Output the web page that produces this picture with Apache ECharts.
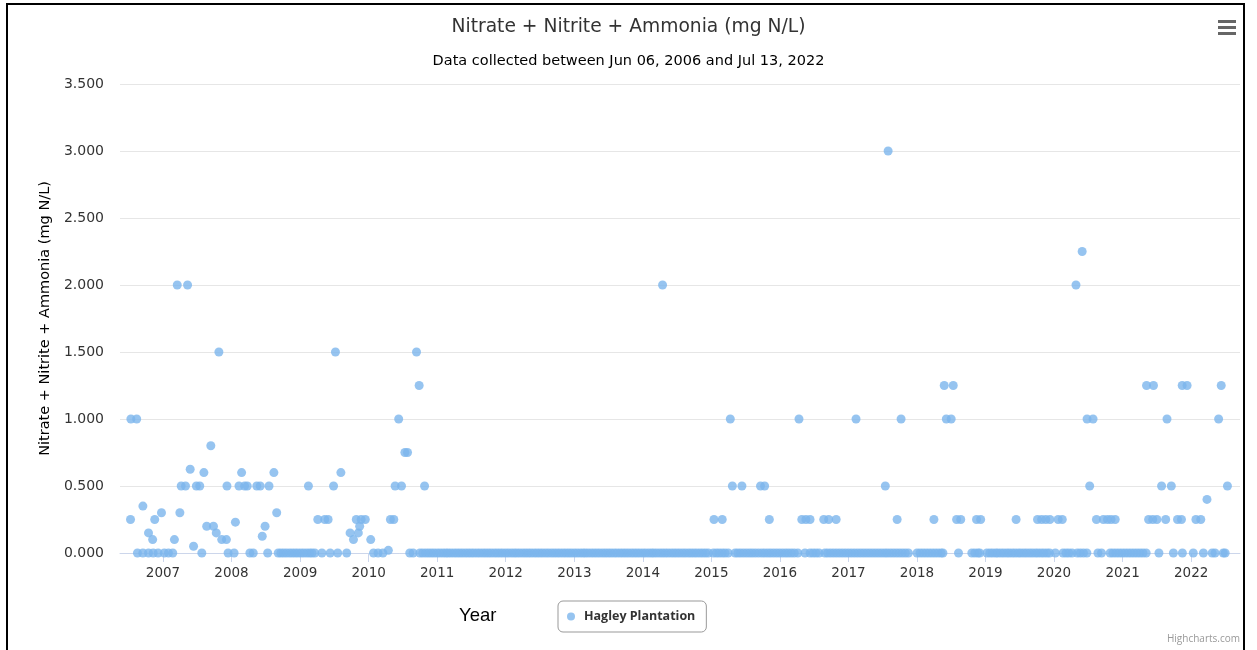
<!DOCTYPE html>
<html>
<head>
<meta charset="utf-8">
<title>Nitrate + Nitrite + Ammonia</title>
<script src="https://cdn.jsdelivr.net/npm/echarts@6/dist/echarts.min.js"></script>
<style>
  html, body { margin: 0; padding: 0; background: #fff; }
  #chart { width: 1257px; height: 650px; }
</style>
</head>
<body>
<div id="chart"></div>
<script>
// values: [date, mg N/L]
var hitDates = [
    '2006-07-12', '2006-07-14', '2006-08-14', '2006-09-16', '2006-10-16', '2006-11-07', '2006-11-18', '2006-12-24',
    '2007-03-03', '2007-03-18', '2007-04-01', '2007-04-08', '2007-05-01', '2007-05-12', '2007-05-26', '2007-06-13',
    '2007-06-28', '2007-07-16', '2007-08-07', '2007-08-22', '2007-09-13', '2007-09-27', '2007-10-12', '2007-10-26',
    '2007-11-10', '2007-12-05', '2007-12-08',
    '2008-01-22', '2008-02-10', '2008-02-24', '2008-03-11', '2008-03-25', '2008-05-15', '2008-06-02', '2008-06-13',
    '2008-06-28', '2008-07-19', '2008-08-14', '2008-08-29',
    '2009-02-14', '2009-04-05', '2009-05-12', '2009-05-30', '2009-06-28', '2009-07-08', '2009-08-06', '2009-09-24',
    '2009-10-12', '2009-10-27', '2009-11-07', '2009-11-14', '2009-11-22', '2009-12-14',
    '2010-01-12', '2010-04-16', '2010-04-27', '2010-05-15', '2010-05-22', '2010-06-10', '2010-06-25', '2010-07-13',
    '2010-07-27', '2010-09-13', '2010-09-27', '2010-10-26',
    '2014-04-16',
    '2015-01-15', '2015-02-28', '2015-04-12', '2015-04-23', '2015-06-13', '2015-09-20', '2015-10-12', '2015-11-06',
    '2016-04-12', '2016-04-27', '2016-05-19', '2016-06-10', '2016-08-22', '2016-09-17', '2016-10-27',
    '2017-02-10', '2017-07-16', '2017-07-31', '2017-09-17', '2017-10-08',
    '2018-04-01', '2018-05-26', '2018-06-06', '2018-07-02', '2018-07-13', '2018-07-31', '2018-08-22', '2018-11-14',
    '2018-12-06',
    '2019-06-13', '2019-10-05', '2019-10-27', '2019-11-18', '2019-12-10',
    '2020-01-23', '2020-02-14', '2020-04-27', '2020-05-30', '2020-06-25', '2020-07-09', '2020-07-27', '2020-08-14',
    '2020-09-20', '2020-10-12', '2020-10-31', '2020-11-22',
    '2021-05-08', '2021-05-19', '2021-06-10', '2021-06-14', '2021-07-02', '2021-07-27', '2021-08-18', '2021-08-25',
    '2021-09-17', '2021-10-20', '2021-11-10', '2021-11-14', '2021-12-10',
    '2022-01-26', '2022-02-21', '2022-03-26', '2022-05-27', '2022-06-10', '2022-07-13'
];
var hitValues = [
    0.25, 1, 1, 0.35, 0.15, 0.1, 0.25, 0.3,
    0.1, 2, 0.3, 0.5, 0.5, 2, 0.625, 0.05,
    0.5, 0.5, 0.6, 0.2, 0.8, 0.2, 0.15, 1.5,
    0.1, 0.1, 0.5,
    0.23, 0.5, 0.6, 0.5, 0.5, 0.5, 0.5, 0.125,
    0.2, 0.5, 0.6, 0.3,
    0.5, 0.25, 0.25, 0.25, 0.5, 1.5, 0.6, 0.15,
    0.1, 0.25, 0.15, 0.2, 0.25, 0.25,
    0.1, 0.02, 0.25, 0.25, 0.5, 1, 0.5, 0.75,
    0.75, 1.5, 1.25, 0.5,
    2,
    0.25, 0.25, 1, 0.5, 0.5, 0.5, 0.5, 0.25,
    1, 0.25, 0.25, 0.25, 0.25, 0.25, 0.25,
    1, 0.5, 3, 0.25, 1,
    0.25, 1.25, 1, 1, 1.25, 0.25, 0.25, 0.25,
    0.25,
    0.25, 0.25, 0.25, 0.25, 0.25,
    0.25, 0.25, 2, 2.25, 1, 0.5, 1, 0.25,
    0.25, 0.25, 0.25, 0.25,
    1.25, 0.25, 0.25, 1.25, 0.25, 0.5, 0.25, 1,
    0.5, 0.25, 0.25, 1.25, 1.25,
    0.25, 0.25, 0.4, 1, 1.25, 0.5
];
// samples that came back at 0.000
var zeroDates = [
    '2006-08-18', '2006-09-16', '2006-10-16', '2006-11-10', '2006-12-06',
    '2007-01-08', '2007-01-30', '2007-02-22', '2007-07-27', '2007-12-14',
    '2008-01-15', '2008-04-08', '2008-04-26', '2008-07-12', '2008-09-06', '2008-09-20', '2008-10-05', '2008-10-20',
    '2008-11-05', '2008-11-20', '2008-12-05', '2008-12-20',
    '2009-01-05', '2009-01-20', '2009-02-05', '2009-02-20', '2009-03-05', '2009-03-20', '2009-04-27', '2009-06-10',
    '2009-07-20', '2009-09-06',
    '2010-01-27', '2010-02-20', '2010-03-18', '2010-08-08', '2010-08-26', '2010-10-01', '2010-10-16', '2010-11-01',
    '2010-11-16', '2010-12-01', '2010-12-16',
    '2011-01-01', '2011-01-16', '2011-02-01', '2011-02-16', '2011-03-01', '2011-03-16', '2011-04-01', '2011-04-16',
    '2011-05-01', '2011-05-16', '2011-06-01', '2011-06-16', '2011-07-01', '2011-07-16', '2011-08-01', '2011-08-16',
    '2011-09-01', '2011-09-16', '2011-10-01', '2011-10-16', '2011-11-01', '2011-11-16', '2011-12-01', '2011-12-16',
    '2012-01-01', '2012-01-16', '2012-02-01', '2012-02-16', '2012-03-01', '2012-03-16', '2012-04-01', '2012-04-16',
    '2012-05-01', '2012-05-16', '2012-06-01', '2012-06-16', '2012-07-01', '2012-07-16', '2012-08-01', '2012-08-16',
    '2012-09-01', '2012-09-16', '2012-10-01', '2012-10-16', '2012-11-01', '2012-11-16', '2012-12-01', '2012-12-16',
    '2013-01-01', '2013-01-16', '2013-02-01', '2013-02-16', '2013-03-01', '2013-03-16', '2013-04-01', '2013-04-16',
    '2013-05-01', '2013-05-16', '2013-06-01', '2013-06-16', '2013-07-01', '2013-07-16', '2013-08-01', '2013-08-16',
    '2013-09-01', '2013-09-16', '2013-10-01', '2013-10-16', '2013-11-01', '2013-11-16', '2013-12-01', '2013-12-16',
    '2014-01-01', '2014-01-16', '2014-02-01', '2014-02-16', '2014-03-01', '2014-03-16', '2014-04-01', '2014-04-16',
    '2014-05-01', '2014-05-16', '2014-06-01', '2014-06-16', '2014-07-01', '2014-07-16', '2014-08-01', '2014-08-16',
    '2014-09-01', '2014-09-16', '2014-10-01', '2014-10-16', '2014-11-01', '2014-11-16', '2014-12-01', '2014-12-16',
    '2015-01-12', '2015-01-28', '2015-02-12', '2015-02-28', '2015-03-15', '2015-04-01', '2015-05-08', '2015-05-22',
    '2015-06-06', '2015-06-22', '2015-07-08', '2015-07-24', '2015-08-08', '2015-08-24', '2015-09-10', '2015-09-27',
    '2015-10-12', '2015-10-28', '2015-11-12', '2015-11-28', '2015-12-14', '2015-12-30',
    '2016-01-15', '2016-01-31', '2016-02-15', '2016-03-02', '2016-03-18', '2016-04-06', '2016-05-14', '2016-06-10',
    '2016-06-26', '2016-07-12', '2016-07-28', '2016-08-28', '2016-09-12', '2016-09-28', '2016-10-14', '2016-10-30',
    '2016-11-15', '2016-12-01', '2016-12-17',
    '2017-01-02', '2017-01-18', '2017-02-03', '2017-02-19', '2017-03-07', '2017-03-23', '2017-04-08', '2017-04-24',
    '2017-05-10', '2017-05-26', '2017-06-11', '2017-06-27', '2017-07-13', '2017-07-27', '2017-08-12', '2017-08-28',
    '2017-09-13', '2017-09-29', '2017-10-15', '2017-10-31', '2017-11-16',
    '2018-01-01', '2018-01-17', '2018-02-02', '2018-02-18', '2018-03-06', '2018-03-22', '2018-04-07', '2018-04-23',
    '2018-05-09', '2018-05-19', '2018-08-10', '2018-10-20', '2018-11-05', '2018-11-21', '2018-12-01',
    '2019-01-08', '2019-01-24', '2019-02-08', '2019-02-24', '2019-03-08', '2019-03-24', '2019-04-08', '2019-04-24',
    '2019-05-08', '2019-05-24', '2019-06-08', '2019-06-24', '2019-07-08', '2019-07-24', '2019-08-08', '2019-08-24',
    '2019-09-08', '2019-09-24', '2019-10-08', '2019-10-24', '2019-11-08', '2019-11-24', '2019-12-08',
    '2020-01-08', '2020-02-18', '2020-03-05', '2020-03-20', '2020-04-06', '2020-05-04', '2020-05-20', '2020-06-06',
    '2020-06-24', '2020-08-22', '2020-09-10', '2020-10-26', '2020-11-10', '2020-11-26', '2020-12-12', '2020-12-28',
    '2021-01-13', '2021-01-29', '2021-02-14', '2021-03-02', '2021-03-18', '2021-04-03', '2021-04-19', '2021-05-06',
    '2021-07-13', '2021-09-28', '2021-11-15',
    '2022-01-12', '2022-03-07', '2022-04-23', '2022-05-08', '2022-06-21', '2022-07-01'
];
var yTicks = [0, 0.5, 1, 1.5, 2, 2.5, 3, 3.5];

var dom = document.getElementById('chart');
var myChart = echarts.init(dom);

var points = [];
for (var i = 0; i < zeroDates.length; i++) {
    points.push([zeroDates[i], 0]);
}
for (var j = 0; j < hitDates.length; j++) {
    points.push([hitDates[j], hitValues[j]]);
}

var font = '"DejaVu Sans", Verdana, sans-serif';
var legendFont = '"Open Sans", sans-serif';

var option = {
    backgroundColor: '#fff',
    animation: false,
    textStyle: { fontFamily: font },
    title: [{
        text: 'Nitrate + Nitrite + Ammonia (mg N/L)',
        left: 'center',
        top: 13,
        textStyle: { fontSize: 18.7, fontWeight: 'normal', color: '#333', fontFamily: font }
    }, {
        text: 'Data collected between Jun 06, 2006 and Jul 13, 2022',
        left: 'center',
        top: 49,
        textStyle: { fontSize: 14.5, fontWeight: 'normal', color: '#000', fontFamily: font }
    }],
    legend: {
        left: 558,
        top: 601,
        data: ['Hagley Plantation'],
        icon: 'circle',
        itemWidth: 16,
        itemHeight: 8,
        padding: [9, 11, 9, 9],
        borderColor: '#999',
        borderWidth: 1,
        borderRadius: 5,
        textStyle: { fontSize: 12.5, fontWeight: 'bold', color: '#333', fontFamily: legendFont }
    },
    grid: {
        left: 120,
        right: 17,
        top: 84,
        bottom: 97,
        containLabel: false
    },
    xAxis: {
        type: 'time',
        min: '2006-05-17',
        max: '2022-09-18',
        minInterval: 365 * 24 * 3600 * 1000,
        maxInterval: 366 * 24 * 3600 * 1000,
        axisLine: { lineStyle: { color: '#ccd6eb' } },
        axisTick: { length: 9, lineStyle: { color: '#ccd6eb' } },
        axisLabel: {
            formatter: '{yyyy}',
            color: '#333',
            fontSize: 13.5,
            margin: 13,
            showMinLabel: false,
            showMaxLabel: false,
            fontFamily: font
        },
        splitLine: { show: false }
    },
    yAxis: {
        type: 'value',
        min: yTicks[0],
        max: yTicks[yTicks.length - 1],
        interval: 0.5,
        name: 'Nitrate + Nitrite + Ammonia (mg N/L)',
        nameLocation: 'middle',
        nameGap: 62,
        nameTextStyle: { fontSize: 14.5, color: '#000', fontFamily: font },
        axisLine: { show: false },
        axisTick: { show: false },
        axisLabel: {
            color: '#333',
            fontSize: 14,
            margin: 16,
            fontFamily: font,
            formatter: function (v) { return v.toFixed(3); }
        },
        splitLine: { lineStyle: { color: '#e6e6e6' } }
    },
    series: [{
        name: 'Hagley Plantation',
        type: 'scatter',
        symbol: 'circle',
        symbolSize: 9,
        itemStyle: { color: '#7cb5ec' },
        data: points
    }],
    graphic: [
        // page frame
        { type: 'rect', shape: { x: 7, y: 4, width: 1237, height: 670 }, style: { fill: 'none', stroke: '#000', lineWidth: 2 }, silent: true },
        // menu button
        { type: 'rect', shape: { x: 1218, y: 20, width: 18, height: 3 }, style: { fill: '#666' } },
        { type: 'rect', shape: { x: 1218, y: 26, width: 18, height: 3 }, style: { fill: '#666' } },
        { type: 'rect', shape: { x: 1218, y: 32, width: 18, height: 3 }, style: { fill: '#666' } },
        { type: 'text', left: 459, top: 606, style: { text: 'Year', fontSize: 18.5, fill: '#000', fontFamily: '"Liberation Sans", Arial, sans-serif' } },
        { type: 'text', right: 17, top: 634, style: { text: 'Highcharts.com', fontSize: 10, fill: '#999', fontFamily: legendFont } }
    ]
};

myChart.setOption(option);
window.addEventListener('resize', function () { myChart.resize(); });
</script>
</body>
</html>
